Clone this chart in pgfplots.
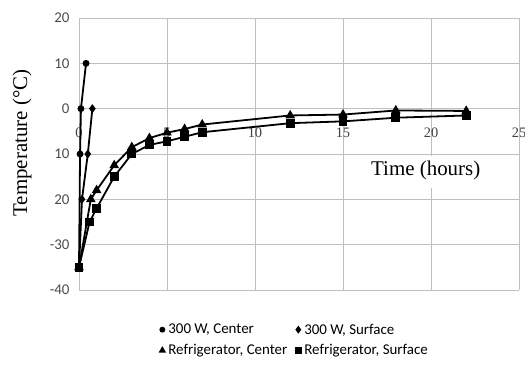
\documentclass[border=0pt]{standalone}
\usepackage{fontspec}
\setmainfont{Liberation Serif}
\newfontfamily\calibri{Carlito}
\usepackage{pgfplots}
\pgfplotsset{compat=1.18}
\begin{document}
\begin{tikzpicture}
\path[use as bounding box] (-79bp,-77bp) rectangle (446bp,290bp);
\begin{axis}[
 scale only axis, width=440bp, height=272bp,
 xmin=0, xmax=25, ymin=-40, ymax=20,
 axis lines=middle,
 axis line style={draw=black!25, line width=0.8pt, -},
 hide obscured x ticks=false, hide obscured y ticks=false,
 xtick={0,5,10,15,20,25}, xticklabels={0,5,10,15,20,25},
 ytick={-40,-30,-20,-10,0,10,20},
 yticklabels={-40,-30,20,10,0,10,20},
 grid=major, grid style={draw=black!25, line width=0.8pt},
 major tick length=0pt,
 xticklabel style={font=\fontsize{14.5}{14.5}\selectfont, text=black!75, anchor=center, yshift=-24bp},
 yticklabel style={font=\calibri\fontsize{15}{15}\selectfont, text=black!70, anchor=east, xshift=-6bp},
 ylabel={Temperature (\textdegree C)},
 ylabel style={font=\fontsize{21}{21}\selectfont, at={(axis description cs:-0.1295,0.54)}, anchor=center, rotate=90},
 legend image code/.code={\path[draw=none,fill=none] (0bp,0bp) -- (9bp,0bp); \draw[#1] plot coordinates {(3bp,0pt)};},
 legend style={at={(axis description cs:0.49,-0.184)}, anchor=center, draw=none, fill=none,
   font=\calibri\fontsize{15}{15}\selectfont, row sep=5bp, inner sep=0pt,
   /tikz/every even column/.append style={column sep=6bp},
   /tikz/every odd column/.append style={column sep=-2bp}},
 legend columns=2, legend cell align=left,
 every axis plot/.append style={black, line width=1.8bp},
 clip=false,
]
\node[fill=white, inner sep=0pt, minimum width=163bp, minimum height=32bp, anchor=north west] at (axis cs:15.7,-10.4) {};
\node[font=\fontsize{21}{21}\selectfont] at (axis cs:19.7,-13.7) {Time (hours)};

\addplot[mark=*, mark size=2.5bp, forget plot] coordinates {(0,-35)(0.06,-10)(0.11,0)(0.4,10)};
\addplot[mark=diamond*, mark size=3bp, forget plot] coordinates {(0,-35)(0.17,-20)(0.5,-10)(0.76,0)};
\addplot[mark=triangle*, mark size=3.8bp, forget plot] coordinates {(0,-35)(0.67,-20)(1,-18)(2,-12.5)(3,-8.5)(4,-6.5)(5,-5.3)(6,-4.5)(7,-3.5)(12,-1.5)(15,-1.3)(18,-0.4)(22,-0.5)};
\addplot[mark=square*, mark size=3.5bp, forget plot] coordinates {(0,-35)(0.6,-25)(1,-22)(2,-15)(3,-10)(4,-8)(5,-7.2)(6,-6.2)(7,-5.2)(12,-3.2)(15,-2.8)(18,-2)(22,-1.5)};

\addlegendimage{mark=*, mark size=2bp, black}
\addlegendentry{300 W, Center}
\addlegendimage{mark=diamond*, mark size=2.5bp, black}
\addlegendentry{300 W, Surface}
\addlegendimage{mark=triangle*, mark size=2.5bp, black}
\addlegendentry{Refrigerator, Center}
\addlegendimage{mark=square*, mark size=2.5bp, black}
\addlegendentry{Refrigerator, Surface}
\end{axis}
\end{tikzpicture}
\end{document}
